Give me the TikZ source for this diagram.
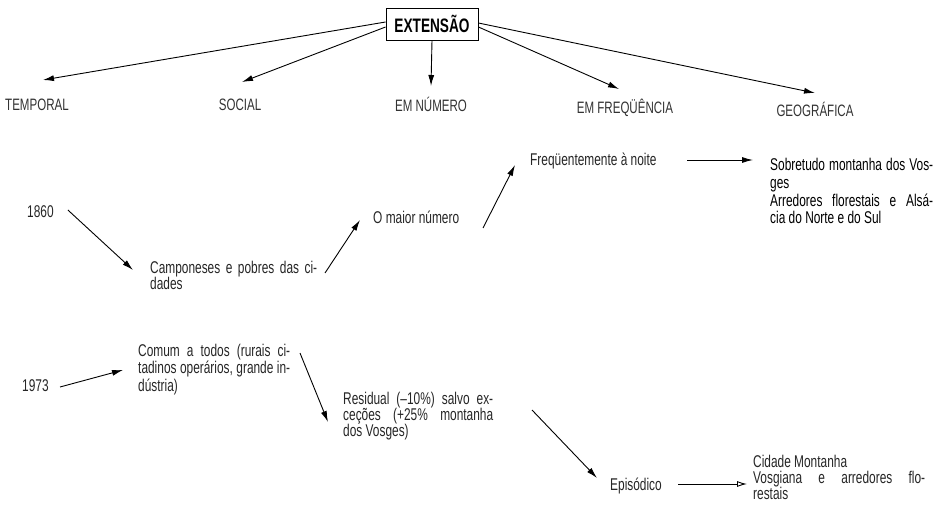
\documentclass[tikz,border=0pt]{standalone}
\usepackage{fontspec}
\setmainfont{Liberation Sans}[FakeStretch=0.7]
\usetikzlibrary{arrows.meta}
% a line of text spread to a given width
\newcommand{\jline}[2]{\makebox[#1pt][s]{#2}}
\begin{document}
\begin{tikzpicture}[x=1pt,y=-1pt,
  txt/.style={inner sep=0pt, anchor=base west, align=left, text=black!85,
    font=\fontsize{17}{16}\selectfont},
  lbl/.style={inner sep=0pt, anchor=base, text=black!80,
    font=\fontsize{16.5}{16}\selectfont},
  arr/.style={line width=0.9pt, -{Latex[length=11pt,width=6pt]}},
  oarr/.style={line width=0.9pt, -{Latex[open,length=10pt,width=6pt]}}]
\useasboundingbox (0,0) rectangle (945,513);

% root
\node[draw, line width=0.9pt, minimum width=92pt, minimum height=32pt, inner sep=0pt,
      font=\fontsize{19.5}{20}\selectfont\bfseries] (ext) at (432,24) {EXTENSÃO};

% first level
\node[lbl] (temporal) at (37,111) {TEMPORAL};
\node[lbl] (social) at (240,111) {SOCIAL};
\node[lbl] (numero) at (431,112) {EM NÚMERO};
\node[lbl] (freq) at (625,114) {EM FREQÜÊNCIA};
\node[lbl] (geog) at (815,117) {GEOGRÁFICA};

\draw[arr] ([yshift=2pt]ext.west) -- ([xshift=6pt,yshift=31pt]temporal.base);
\draw[arr] ([yshift=-3pt]ext.west) -- ([xshift=2pt,yshift=29pt]social.base);
\draw[arr] (ext.south) -- ([yshift=26pt]numero.base);
\draw[arr] ([yshift=-3pt]ext.east) -- ([xshift=-6pt,yshift=25pt]freq.base);
\draw[arr] ([yshift=1pt]ext.east) -- ([yshift=24pt]geog.base);

% 1860 chain (multi-line nodes are placed by the baseline of their last line)
\node[txt] (y1860) at (27,218) {1860};
\node[txt] (camp) at (150,289)
  {\jline{167}{Camponeses e pobres das ci-}\\dades};
\node[txt] (maior) at (373,223) {O maior número};
\node[txt] (noite) at (530,166) {Freqüentemente à noite};
\node[txt, text=black, font=\fontsize{17}{18}\selectfont] (vosges) at (770,224)
  {\jline{163}{Sobretudo montanha dos Vos-}\\ges\\\jline{163}{Arredores florestais e Alsá-}\\cia do Norte e do Sul};

\draw[arr] ([xshift=14pt,yshift=8pt]y1860.base east) -- ([xshift=-17pt,yshift=19pt]camp.base west);
\draw[arr] ([xshift=175pt,yshift=16pt]camp.base west) -- ([xshift=-13pt,yshift=3pt]maior.base west);
\draw[arr] ([xshift=110pt,yshift=-5pt]maior.base west) -- ([xshift=-15pt,yshift=1pt]noite.base west);
\draw[arr] ([xshift=157pt,yshift=6pt]noite.base west) -- ([xshift=-17pt,yshift=64pt]vosges.base west);

% 1973 chain
\node[txt] (y1973) at (22,391) {1973};
\node[txt] (comum) at (138,391)
  {\jline{152}{Comum a todos (rurais ci-}\\\jline{152}{tadinos operários, grande in-}\\dústria)};
\node[txt] (resid) at (343,436)
  {\jline{150}{Residual (–10\%) salvo ex-}\\\jline{150}{ceções (+25\% montanha}\\dos Vosges)};
\node[txt] (epis) at (610,490) {Episódico};
\node[txt] (cidade) at (753,499)
  {Cidade Montanha\\\jline{172}{Vosgiana e arredores flo-}\\restais};

\draw[arr] ([xshift=38pt,yshift=4pt]y1973.base west) -- ([xshift=-15pt,yshift=21pt]comum.base west);
\draw[arr] ([xshift=162pt,yshift=38pt]comum.base west) -- ([xshift=-15pt,yshift=14pt]resid.base west);
\draw[arr] ([xshift=189pt,yshift=26pt]resid.base west) -- ([xshift=-13pt,yshift=12pt]epis.base west);
\draw[oarr] ([xshift=68pt,yshift=6pt]epis.base west) -- ([xshift=-6pt,yshift=15pt]cidade.base west);
\end{tikzpicture}
\end{document}
